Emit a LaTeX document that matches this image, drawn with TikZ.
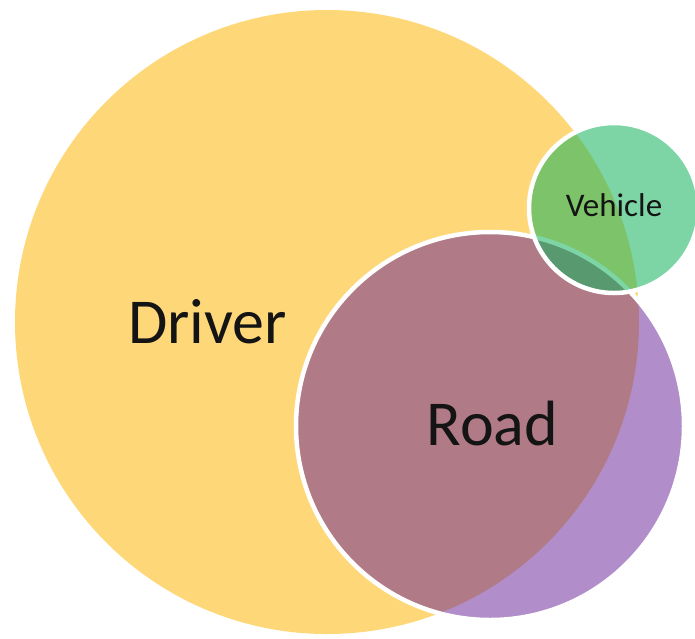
\documentclass[tikz,border=0pt]{standalone}
\usepackage{fontspec}
\setmainfont{Carlito}
\definecolor{drivery}{RGB}{254,216,120}
\definecolor{roadc}{RGB}{100,31,150}
\definecolor{vehc}{RGB}{19,179,93}
\definecolor{txt}{RGB}{20,20,20}
\tikzset{
  lbl/.style={anchor=base, inner sep=0pt, text=txt},
  bigtxt/.style={font=\fontsize{64}{64}\selectfont},
  smalltxt/.style={font=\fontsize{33}{33}\selectfont},
}
\begin{document}
\begin{tikzpicture}[x=1pt,y=-1pt]
\useasboundingbox (0,0) rectangle (695,638);
\fill[white] (0,0) rectangle (695,638);
% circles
\coordinate (cd) at (327,322);
\coordinate (cr) at (490,426);
\coordinate (cv) at (614,208);
\fill[drivery] (cd) circle (312);
\filldraw[fill=roadc, fill opacity=0.5, draw=white, line width=4.5pt] (cr) circle (194);
\filldraw[fill=vehc, fill opacity=0.55, draw=white, line width=4.5pt] (cv) circle (85);
% labels
\node[lbl, bigtxt] (driver) at (207.5,343) {Driver};
\node[lbl, bigtxt] (road) at (492.5,445) {Road};
\node[lbl, smalltxt] (vehicle) at (614,216) {Vehicle};
\end{tikzpicture}
\end{document}
